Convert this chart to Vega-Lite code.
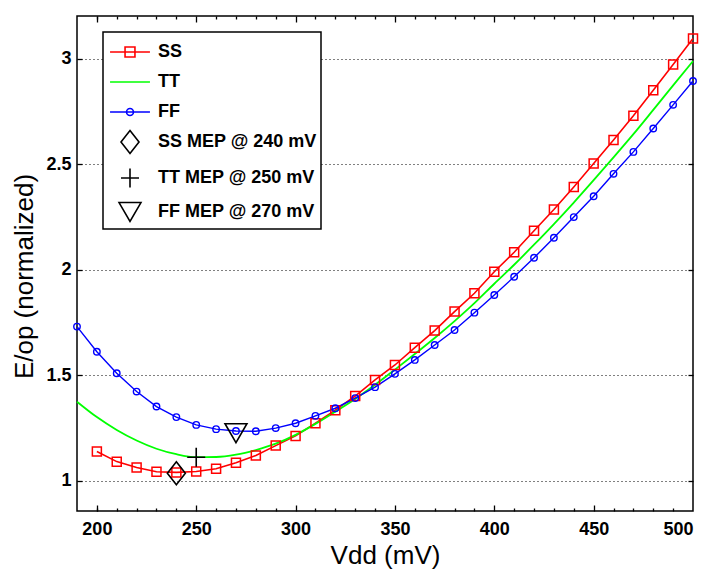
{
  "$schema": "https://vega.github.io/schema/vega-lite/v6.json",
  "width": 616,
  "height": 495,
  "autosize": "none",
  "padding": {"left": 77, "top": 16, "right": 16, "bottom": 65},
  "background": "white",
  "config": {
    "view": {"stroke": "black", "strokeWidth": 1.5},
    "axis": {
      "labelFont": "Liberation Sans", "labelFontSize": 18, "labelFontWeight": "bold", "labelColor": "black",
      "titleFont": "Liberation Sans", "titleFontSize": 26, "titleFontWeight": "normal", "titleColor": "black",
      "domain": false, "tickColor": "black", "tickWidth": 1.3
    }
  },
  "data": {
    "values": [
      {"series": "SS", "v": 200, "e": 1.139}, {"series": "SS", "v": 210, "e": 1.091}, {"series": "SS", "v": 220, "e": 1.063},
      {"series": "SS", "v": 230, "e": 1.043}, {"series": "SS", "v": 240, "e": 1.040}, {"series": "SS", "v": 250, "e": 1.044},
      {"series": "SS", "v": 260, "e": 1.057}, {"series": "SS", "v": 270, "e": 1.086}, {"series": "SS", "v": 280, "e": 1.120},
      {"series": "SS", "v": 290, "e": 1.167}, {"series": "SS", "v": 300, "e": 1.213}, {"series": "SS", "v": 310, "e": 1.273},
      {"series": "SS", "v": 320, "e": 1.335}, {"series": "SS", "v": 330, "e": 1.402}, {"series": "SS", "v": 340, "e": 1.478},
      {"series": "SS", "v": 350, "e": 1.549}, {"series": "SS", "v": 360, "e": 1.631}, {"series": "SS", "v": 370, "e": 1.712},
      {"series": "SS", "v": 380, "e": 1.802}, {"series": "SS", "v": 390, "e": 1.889}, {"series": "SS", "v": 400, "e": 1.991},
      {"series": "SS", "v": 410, "e": 2.083}, {"series": "SS", "v": 420, "e": 2.185}, {"series": "SS", "v": 430, "e": 2.286},
      {"series": "SS", "v": 440, "e": 2.393}, {"series": "SS", "v": 450, "e": 2.504}, {"series": "SS", "v": 460, "e": 2.615},
      {"series": "SS", "v": 470, "e": 2.730}, {"series": "SS", "v": 480, "e": 2.851}, {"series": "SS", "v": 490, "e": 2.973},
      {"series": "SS", "v": 500, "e": 3.096},
      {"series": "TT", "v": 190, "e": 1.375}, {"series": "TT", "v": 200, "e": 1.302}, {"series": "TT", "v": 210, "e": 1.241},
      {"series": "TT", "v": 220, "e": 1.191}, {"series": "TT", "v": 230, "e": 1.152}, {"series": "TT", "v": 240, "e": 1.126},
      {"series": "TT", "v": 250, "e": 1.112}, {"series": "TT", "v": 260, "e": 1.113}, {"series": "TT", "v": 270, "e": 1.124},
      {"series": "TT", "v": 280, "e": 1.146}, {"series": "TT", "v": 290, "e": 1.176}, {"series": "TT", "v": 300, "e": 1.218},
      {"series": "TT", "v": 310, "e": 1.270}, {"series": "TT", "v": 320, "e": 1.328}, {"series": "TT", "v": 330, "e": 1.388},
      {"series": "TT", "v": 340, "e": 1.455}, {"series": "TT", "v": 350, "e": 1.527}, {"series": "TT", "v": 360, "e": 1.601},
      {"series": "TT", "v": 370, "e": 1.677}, {"series": "TT", "v": 380, "e": 1.757}, {"series": "TT", "v": 390, "e": 1.842},
      {"series": "TT", "v": 400, "e": 1.934}, {"series": "TT", "v": 410, "e": 2.024}, {"series": "TT", "v": 420, "e": 2.119},
      {"series": "TT", "v": 430, "e": 2.217}, {"series": "TT", "v": 440, "e": 2.319}, {"series": "TT", "v": 450, "e": 2.425},
      {"series": "TT", "v": 460, "e": 2.533}, {"series": "TT", "v": 470, "e": 2.643}, {"series": "TT", "v": 480, "e": 2.758},
      {"series": "TT", "v": 490, "e": 2.874}, {"series": "TT", "v": 500, "e": 2.989},
      {"series": "FF", "v": 190, "e": 1.731}, {"series": "FF", "v": 200, "e": 1.612}, {"series": "FF", "v": 210, "e": 1.510},
      {"series": "FF", "v": 220, "e": 1.423}, {"series": "FF", "v": 230, "e": 1.352}, {"series": "FF", "v": 240, "e": 1.302},
      {"series": "FF", "v": 250, "e": 1.265}, {"series": "FF", "v": 260, "e": 1.245}, {"series": "FF", "v": 270, "e": 1.236},
      {"series": "FF", "v": 280, "e": 1.235}, {"series": "FF", "v": 290, "e": 1.250}, {"series": "FF", "v": 300, "e": 1.273},
      {"series": "FF", "v": 310, "e": 1.308}, {"series": "FF", "v": 320, "e": 1.344}, {"series": "FF", "v": 330, "e": 1.392},
      {"series": "FF", "v": 340, "e": 1.444}, {"series": "FF", "v": 350, "e": 1.507}, {"series": "FF", "v": 360, "e": 1.573},
      {"series": "FF", "v": 370, "e": 1.644}, {"series": "FF", "v": 380, "e": 1.715}, {"series": "FF", "v": 390, "e": 1.797},
      {"series": "FF", "v": 400, "e": 1.881}, {"series": "FF", "v": 410, "e": 1.967}, {"series": "FF", "v": 420, "e": 2.057},
      {"series": "FF", "v": 430, "e": 2.152}, {"series": "FF", "v": 440, "e": 2.250}, {"series": "FF", "v": 450, "e": 2.349},
      {"series": "FF", "v": 460, "e": 2.455}, {"series": "FF", "v": 470, "e": 2.559}, {"series": "FF", "v": 480, "e": 2.670},
      {"series": "FF", "v": 490, "e": 2.782}, {"series": "FF", "v": 500, "e": 2.895},
      {"series": "SS MEP @ 240 mV", "v": 240, "e": 1.036},
      {"series": "TT MEP @ 250 mV", "v": 250, "e": 1.112},
      {"series": "FF MEP @ 270 mV", "v": 270, "e": 1.226}
    ]
  },
  "encoding": {
    "color": {
      "field": "series", "type": "nominal",
      "scale": {
        "domain": ["SS", "TT", "FF", "SS MEP @ 240 mV", "TT MEP @ 250 mV", "FF MEP @ 270 mV"],
        "range": ["#ff0000", "#00ff00", "#0000ff", "black", "black", "black"]
      },
      "legend": {
        "orient": "none", "legendX": 26, "legendY": 16, "title": null,
        "symbolSize": 900, "symbolOffset": 7, "labelOffset": 12, "padding": 4, "rowPadding": 5,
        "labelFont": "Liberation Sans", "labelFontSize": 18, "labelFontWeight": "bold", "labelColor": "black",
        "labelLimit": 400,
        "fillColor": "white", "strokeColor": "black",
        "labelExpr": "datum.label + '\u00a0\u00a0\u00a0\u00a0\u00a0\u00a0\u00a0'",
        "encode": {
          "symbols": {"update": {
            "shape": {"signal": "scale('shape', datum.value)"},
            "stroke": {"signal": "scale('color', datum.value)"},
            "fill": {"value": "transparent"},
            "strokeWidth": {"value": 1.6},
            "opacity": {"value": 1},
            "size": {"value": 900}
          }},
          "legend": {"update": {"strokeWidth": {"value": 1.5}}}
        }
      }
    }
  },
  "resolve": {"axis": {"x": "independent", "y": "independent"}},
  "layer": [
    {
      "transform": [{"filter": "datum.series === 'SS'"}],
      "mark": {"type": "line", "strokeWidth": 1.6},
      "encoding": {
        "x": {"field": "v", "type": "quantitative", "scale": {"domain": [190, 500], "nice": false, "zero": false},
          "axis": {"orient": "bottom", "values": [200, 250, 300, 350, 400, 450, 500], "format": "d", "ticks": false, "grid": false,
            "labelPadding": 9, "title": "Vdd (mV)", "titlePadding": 4}},
        "y": {"field": "e", "type": "quantitative", "scale": {"domain": [0.857, 3.203], "nice": false, "zero": false},
          "axis": {"orient": "left", "values": [1, 1.5, 2, 2.5, 3], "format": "~g", "ticks": false, "grid": true,
            "gridColor": "black", "gridDash": [1, 3], "gridWidth": 1, "gridOpacity": 1,
            "labelPadding": 6, "title": "E/op (normalized)", "titlePadding": 8, "titleY": 260}}
      }
    },
    {
      "transform": [{"filter": "datum.series === 'TT'"}],
      "mark": {"type": "line", "strokeWidth": 1.8, "interpolate": "monotone"},
      "encoding": {
        "x": {"field": "v", "type": "quantitative",
          "axis": {"orient": "bottom", "values": [200, 210, 220, 230, 240, 260, 270, 280, 290, 310, 320, 330, 340, 360, 370, 380, 390, 410, 420, 430, 440, 460, 470, 480, 490],
            "labels": false, "grid": false, "title": null, "tickSize": 3, "offset": -3}},
        "y": {"field": "e", "type": "quantitative",
          "axis": {"orient": "left", "values": [1, 1.5, 2, 2.5, 3], "labels": false, "grid": false, "title": null, "tickSize": 5, "offset": -5}}
      }
    },
    {
      "transform": [{"filter": "datum.series === 'FF'"}],
      "mark": {"type": "line", "strokeWidth": 1.4},
      "encoding": {
        "x": {"field": "v", "type": "quantitative",
          "axis": {"orient": "bottom", "values": [200, 250, 300, 350, 400, 450],
            "labels": false, "grid": false, "title": null, "tickSize": 6, "offset": -6}},
        "y": {"field": "e", "type": "quantitative",
          "axis": {"orient": "right", "values": [1, 1.5, 2, 2.5, 3], "labels": false, "grid": false, "title": null, "tickSize": 5, "offset": -5}}
      }
    },
    {
      "transform": [{"filter": "datum.series === 'SS'"}],
      "mark": {"type": "point", "shape": "square", "size": 81, "filled": false, "strokeWidth": 1.5, "opacity": 1},
      "encoding": {
        "x": {"field": "v", "type": "quantitative",
          "axis": {"orient": "top", "values": [200, 210, 220, 230, 240, 260, 270, 280, 290, 310, 320, 330, 340, 360, 370, 380, 390, 410, 420, 430, 440, 460, 470, 480, 490],
            "labels": false, "grid": false, "title": null, "tickSize": 3, "offset": -3}},
        "y": {"field": "e", "type": "quantitative", "axis": null}
      }
    },
    {
      "transform": [{"filter": "datum.series === 'FF'"}],
      "mark": {"type": "point", "shape": "circle", "size": 42, "filled": false, "strokeWidth": 1.4, "opacity": 1},
      "encoding": {
        "x": {"field": "v", "type": "quantitative",
          "axis": {"orient": "top", "values": [200, 250, 300, 350, 400, 450],
            "labels": false, "grid": false, "title": null, "tickSize": 6, "offset": -6}},
        "y": {"field": "e", "type": "quantitative", "axis": null}
      }
    },
    {
      "transform": [{"filter": "indexof(datum.series, 'MEP') >= 0"}],
      "mark": {"type": "point", "size": 900, "filled": false, "strokeWidth": 1.6, "opacity": 1},
      "encoding": {
        "x": {"field": "v", "type": "quantitative", "axis": null},
        "y": {"field": "e", "type": "quantitative", "axis": null},
        "shape": {
          "field": "series", "type": "nominal", "legend": null,
          "scale": {
            "domain": ["SS", "TT", "FF", "SS MEP @ 240 mV", "TT MEP @ 250 mV", "FF MEP @ 270 mV"],
            "range": [
              "M-1.33,0H1.33M-0.33,-0.33H0.33V0.33H-0.33Z",
              "M-1.33,0H1.33",
              "M-1.33,0H1.33M-0.23,0A0.23,0.23,0,1,0,0.23,0A0.23,0.23,0,1,0,-0.23,0Z",
              "M0,-0.77L0.6,0L0,0.77L-0.6,0Z",
              "M-0.6,0H0.6M0,-0.63V0.63",
              "M-0.73,-0.63H0.73L0,0.63Z"
            ]
          }
        }
      }
    }
  ]
}
